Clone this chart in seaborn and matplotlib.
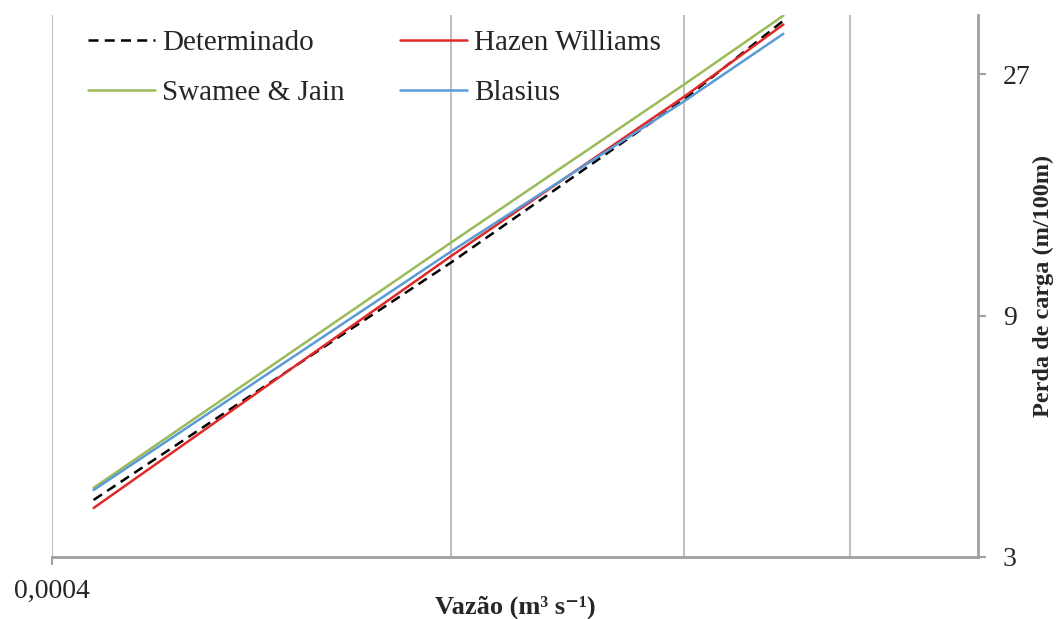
import pandas as pd
import matplotlib.pyplot as plt
import seaborn as sns
from matplotlib.ticker import NullFormatter, FixedLocator

# values (log-log)
vazao = [0.00043, 0.0008, 0.0012, 0.001426]
determinado = [3.89, 11.46, 24.1, 34.5]
hazen_williams = [3.75, 11.8, 24.4, 33.9]
swamee_jain = [4.11, 12.55, 25.8, 35.3]
blasius = [4.07, 12.05, 23.9, 32.5]

series_names = ['Determinado', 'Hazen Williams', 'Swamee & Jain', 'Blasius']
y_ticks = [3, 9, 27]
x_grid = [0.0008, 0.0012, 0.0016]

sns.set_style('white')
plt.rcParams['font.family'] = ['Liberation Serif', 'DejaVu Serif']

rows = []
for name, vals in zip(series_names, [determinado, hazen_williams, swamee_jain, blasius]):
    for q, h in zip(vazao, vals):
        rows.append({'Vazao': q, 'Perda': h, 'Serie': name})
df = pd.DataFrame(rows)

palette = {'Determinado': '#000000', 'Hazen Williams': '#e02a2a',
           'Swamee & Jain': '#9bbb59', 'Blasius': '#5b9bd5'}
dash_pat = (4, 2.5)
dashes = {'Determinado': dash_pat, 'Hazen Williams': '', 'Swamee & Jain': '', 'Blasius': ''}

fig = plt.figure(figsize=(10.59, 6.19), dpi=100)
ax = fig.add_axes([52 / 1059, 62 / 619, 926 / 1059, 542 / 619])

sns.lineplot(data=df, x='Vazao', y='Perda', hue='Serie', style='Serie',
             palette=palette, dashes=dashes, linewidth=1.8, ax=ax, legend=False)

ax.set_xscale('log')
ax.set_yscale('log', base=3)
ax.set_xlim(0.0004, 0.002)
ax.set_ylim(3, 35.4)

# x axis: only 0,0004 labelled, minor gridlines at the rest
ax.xaxis.set_major_locator(FixedLocator([0.0004]))
ax.set_xticklabels(['0,0004'])
ax.xaxis.set_minor_locator(FixedLocator(x_grid))
ax.xaxis.set_minor_formatter(NullFormatter())
ax.tick_params(axis='x', which='minor', length=0)
ax.tick_params(axis='x', which='major', length=6, width=1.5, color='#a0a0a0',
               labelsize=20, pad=10, direction='out', bottom=True)
ax.grid(True, axis='x', which='both', color='#c0c0c0', linewidth=1.5)
ax.grid(False, axis='y')

# y axis on the right
ax.yaxis.tick_right()
ax.yaxis.set_label_position('right')
ax.yaxis.set_major_locator(FixedLocator(y_ticks))
ax.set_yticklabels([str(t) for t in y_ticks])
ax.yaxis.set_minor_locator(FixedLocator([]))
ax.tick_params(axis='y', which='major', length=6, width=1.5, color='#a0a0a0',
               labelsize=20, pad=12, direction='out', right=True, left=False)

for s in ['top', 'left']:
    ax.spines[s].set_visible(False)
for s in ['bottom', 'right']:
    ax.spines[s].set_color('#a0a0a0')
    ax.spines[s].set_linewidth(2)

ax.set_xlabel('Vazão (m³ s⁻¹)', fontsize=19, fontweight='bold')
ax.set_ylabel('Perda de carga (m/100m)', fontsize=17.5, fontweight='bold', rotation=90)
ax.xaxis.set_label_coords(0.5, -0.071)
ax.yaxis.set_label_coords(1.059, 0.5)

# legend: two columns, no frame
handles = []
for name in ['Determinado', 'Swamee & Jain', 'Hazen Williams', 'Blasius']:
    if name == 'Determinado':
        h, = ax.plot([], [], color=palette[name], linestyle='--', dashes=dash_pat,
                     linewidth=1.8, label=name)
    else:
        h, = ax.plot([], [], color=palette[name], linewidth=1.8, label=name)
    handles.append(h)
ax.legend(handles=handles, ncol=2, frameon=False, fontsize=21,
          loc='upper left', bbox_to_anchor=(0.01, 1.021),
          handlelength=2.3, handletextpad=0.25, columnspacing=1.9,
          labelspacing=0.8)

fig.savefig('out.png', dpi=100)
